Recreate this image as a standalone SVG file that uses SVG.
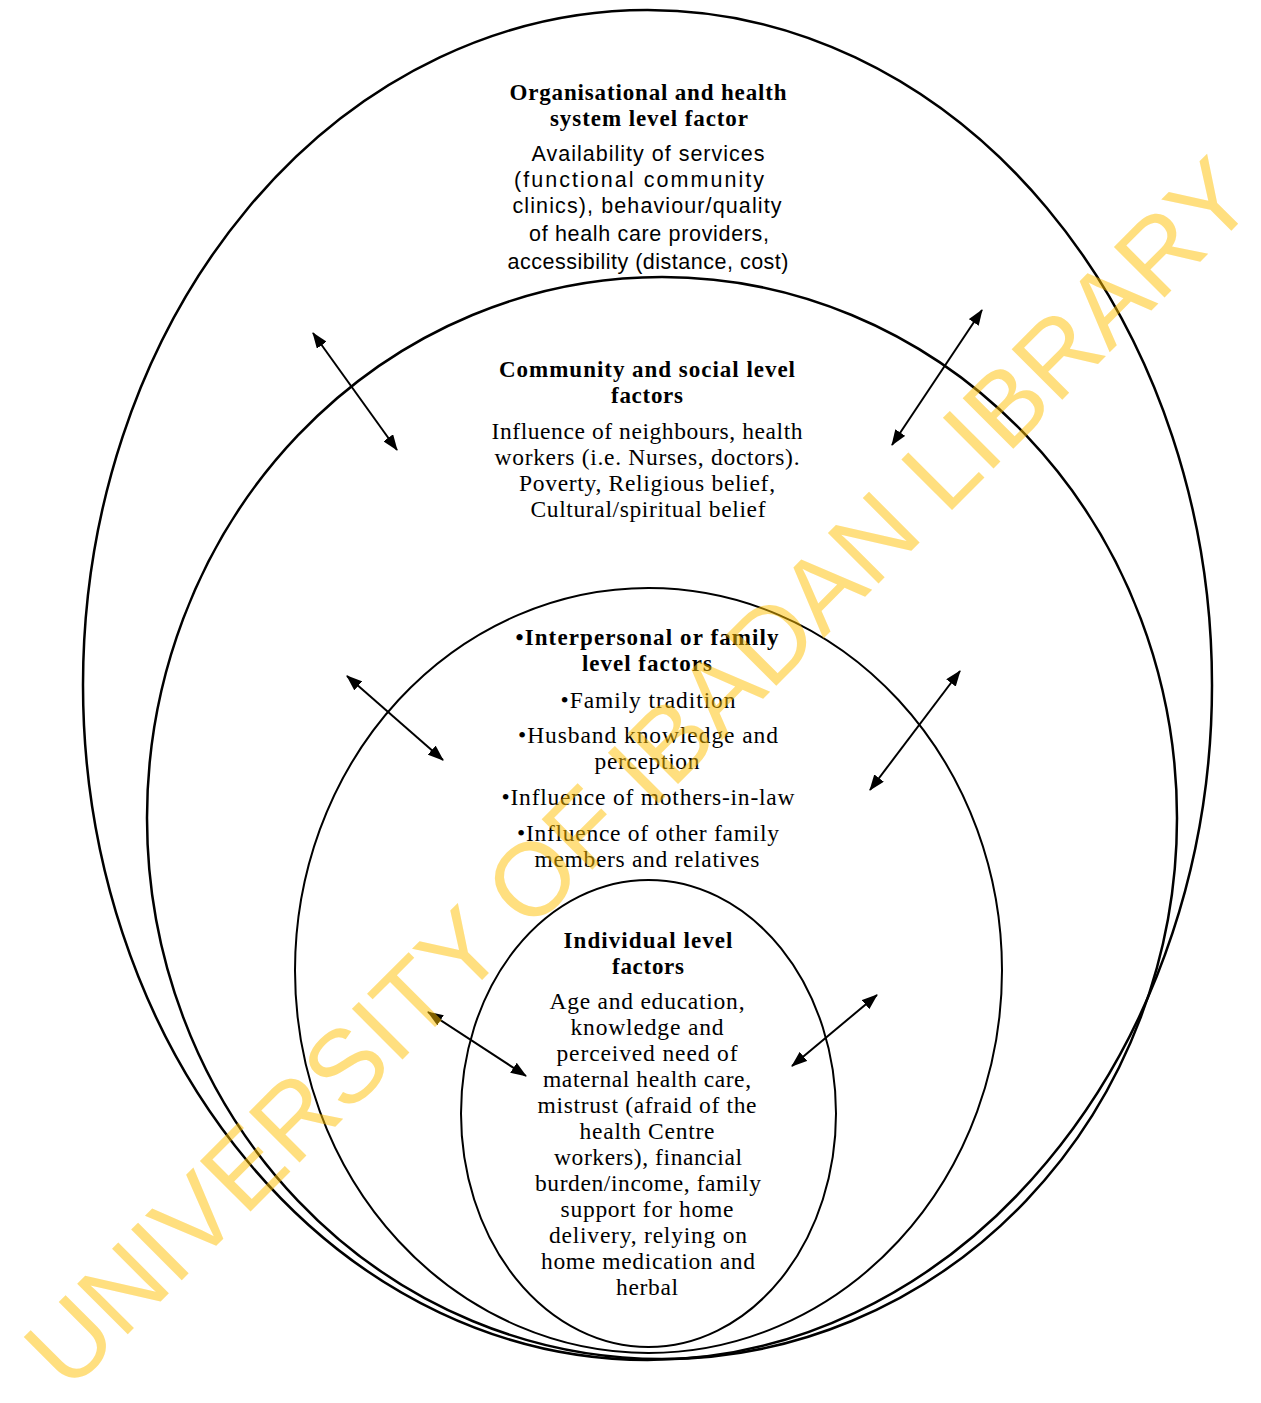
<svg xmlns="http://www.w3.org/2000/svg" width="1261" height="1403" viewBox="0 0 1261 1403">
<defs>
<marker id="ah" viewBox="0 0 16 12" refX="15" refY="6" markerWidth="16" markerHeight="12" markerUnits="userSpaceOnUse" orient="auto-start-reverse">
<path d="M0,0 L16,6 L0,12 Z" fill="#000"/>
</marker>
</defs>
<style>
.ring{fill:none;stroke:#000}
.h{font-family:"Liberation Serif","Times New Roman",serif;font-weight:bold;font-size:23px;text-anchor:middle;fill:#000}
.b{font-family:"Liberation Serif","Times New Roman",serif;font-size:23.5px;text-anchor:middle;fill:#000}
.s{font-family:"Liberation Sans",Arial,sans-serif;font-size:21.5px;text-anchor:middle;fill:#000}
.arr{stroke:#000;stroke-width:2;fill:none;marker-start:url(#ah);marker-end:url(#ah)}
.wm{font-family:"Liberation Sans",Arial,sans-serif;font-size:104px;fill:#FFC000;fill-opacity:0.5;text-anchor:middle}
</style>
<rect width="1261" height="1403" fill="#fff"/>
<g id="organisational">
<ellipse class="ring" cx="647.5" cy="685" rx="564.5" ry="675" stroke-width="2.5"/>
<text class="h" x="648" y="100" textLength="277" lengthAdjust="spacing">Organisational and health</text>
<text class="h" x="649" y="126" textLength="198" lengthAdjust="spacing">system level factor</text>
<text class="s" x="648" y="161" textLength="233" lengthAdjust="spacing">Availability of services</text>
<text class="s" x="639" y="187" textLength="250" lengthAdjust="spacing">(functional community</text>
<text class="s" x="647" y="213" textLength="269" lengthAdjust="spacing">clinics), behaviour/quality</text>
<text class="s" x="649" y="241" textLength="240" lengthAdjust="spacing">of healh care providers,</text>
<text class="s" x="648" y="269" textLength="281" lengthAdjust="spacing">accessibility (distance, cost)</text>
</g>
<g id="community">
<ellipse class="ring" cx="662" cy="818" rx="515" ry="541" stroke-width="2.5"/>
<text class="h" x="647" y="377" textLength="296" lengthAdjust="spacing">Community  and social level</text>
<text class="h" x="647" y="403" textLength="72" lengthAdjust="spacing">factors</text>
<text class="b" x="647" y="439" textLength="311" lengthAdjust="spacing">Influence of neighbours, health</text>
<text class="b" x="647" y="465" textLength="305" lengthAdjust="spacing">workers (i.e. Nurses, doctors).</text>
<text class="b" x="647" y="491" textLength="256" lengthAdjust="spacing">Poverty, Religious belief,</text>
<text class="b" x="648" y="517" textLength="235" lengthAdjust="spacing">Cultural/spiritual belief</text>
</g>
<g id="interpersonal">
<ellipse class="ring" cx="648.5" cy="970.5" rx="353.5" ry="382.5" stroke-width="2"/>
<text class="h" x="647" y="645" textLength="263" lengthAdjust="spacing">•Interpersonal  or family</text>
<text class="h" x="647" y="671" textLength="130" lengthAdjust="spacing">level factors</text>
<text class="b" x="648" y="708" textLength="175" lengthAdjust="spacing">•Family tradition</text>
<text class="b" x="648" y="743" textLength="260" lengthAdjust="spacing">•Husband knowledge and</text>
<text class="b" x="647" y="769" textLength="105" lengthAdjust="spacing">perception</text>
<text class="b" x="648" y="805" textLength="293" lengthAdjust="spacing">•Influence of mothers-in-law</text>
<text class="b" x="648" y="841" textLength="262" lengthAdjust="spacing">•Influence of other family</text>
<text class="b" x="647" y="867" textLength="225" lengthAdjust="spacing">members and relatives</text>
</g>
<g id="individual">
<ellipse class="ring" cx="648.5" cy="1113.5" rx="187.5" ry="233.5" stroke-width="2"/>
<text class="h" x="648" y="948" textLength="169" lengthAdjust="spacing">Individual  level</text>
<text class="h" x="648" y="974" textLength="72" lengthAdjust="spacing">factors</text>
<text class="b" x="647" y="1009" textLength="195" lengthAdjust="spacing">Age and education,</text>
<text class="b" x="647" y="1035" textLength="153" lengthAdjust="spacing">knowledge and</text>
<text class="b" x="647" y="1061" textLength="181" lengthAdjust="spacing">perceived need of</text>
<text class="b" x="647" y="1087" textLength="208" lengthAdjust="spacing">maternal health care,</text>
<text class="b" x="647" y="1113" textLength="219" lengthAdjust="spacing">mistrust (afraid of the</text>
<text class="b" x="647" y="1139" textLength="135" lengthAdjust="spacing">health Centre</text>
<text class="b" x="648" y="1165" textLength="188" lengthAdjust="spacing">workers), financial</text>
<text class="b" x="648" y="1191" textLength="226" lengthAdjust="spacing">burden/income, family</text>
<text class="b" x="647" y="1217" textLength="173" lengthAdjust="spacing">support for home</text>
<text class="b" x="648" y="1243" textLength="198" lengthAdjust="spacing">delivery, relying on</text>
<text class="b" x="648" y="1269" textLength="214" lengthAdjust="spacing">home medication and</text>
<text class="b" x="647" y="1295" textLength="62" lengthAdjust="spacing">herbal</text>
</g>
<g id="connectors">
<line class="arr" x1="313" y1="333" x2="397" y2="450"/>
<line class="arr" x1="982" y1="310" x2="892" y2="445"/>
<line class="arr" x1="347" y1="676" x2="443" y2="760"/>
<line class="arr" x1="960" y1="671" x2="870" y2="790"/>
<line class="arr" x1="428" y1="1012" x2="526" y2="1076"/>
<line class="arr" x1="877" y1="995" x2="792" y2="1066"/>
</g>
<text class="wm" transform="translate(664,798) rotate(-45)">UNIVERSITY OF IBADAN LIBRARY</text>
</svg>
